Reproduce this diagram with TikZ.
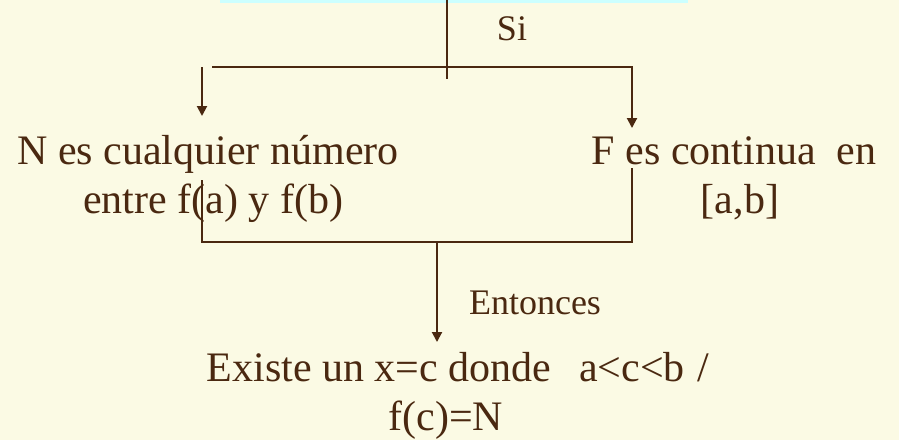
\documentclass[tikz,border=0pt]{standalone}
\usepackage{fontspec}
\setmainfont{Liberation Serif}
\usetikzlibrary{arrows.meta}
\definecolor{bg}{RGB}{251,250,228}
\definecolor{ink}{RGB}{74,40,16}
\definecolor{cyanbar}{RGB}{204,255,255}
\tikzset{
  big/.style={font=\fontsize{42}{49}\selectfont, text=ink, inner sep=0pt, anchor=base},
  small/.style={font=\fontsize{36}{42}\selectfont, text=ink, inner sep=0pt, anchor=base},
  conn/.style={draw=ink, line width=2pt},
  arr/.style={conn, -{Triangle[width=10pt,length=10pt]}}
}
\begin{document}
\begin{tikzpicture}[x=1pt,y=-1pt]
\fill[bg] (0,0) rectangle (899,440);
\useasboundingbox (0,0) rectangle (899,440);
\fill[cyanbar] (220,0) rectangle (688,2.5);
% texts
\node[small] (si) at (512,40) {Si};
\node[big] (n1) at (208,164) {N es cualquier número};
\node[big] (n2) at (213,213) {entre f(a) y f(b)};
\node[big] (f1) at (734,164) {F es continua\ \ en};
\node[big] (f2) at (740,213) {[a,b]};
\node[small] (ent) at (535,314) {Entonces};
\node[big] (e1) at (458,381) {Existe un x=c donde\hspace{28pt}a<c<b\hspace{2pt} /};
\node[big] (e2) at (446,430) {f(c)=N};
% coordinates
\coordinate (top) at (447,0);
\coordinate (tj) at (447,79);
\coordinate (hl) at (212,67);
\coordinate (hr) at (632,67);
\coordinate (ftip) at (632,128);
\coordinate (ls) at (202,67);
\coordinate (ntip) at (202,116);
\coordinate (bl) at (202,180);
\coordinate (bll) at (202,242);
\coordinate (brr) at (632,242);
\coordinate (br) at (632,168);
\coordinate (dj) at (437,242);
\coordinate (etip) at (437,342);
% connectors
\draw[conn] (top) -- (tj);
\draw[arr] (hl) -- (hr) -- (ftip);
\draw[arr] (ls) -- (ntip);
\draw[conn] (bl) -- (bll) -- (brr) -- (br);
\draw[arr] (dj) -- (etip);
\end{tikzpicture}
\end{document}
